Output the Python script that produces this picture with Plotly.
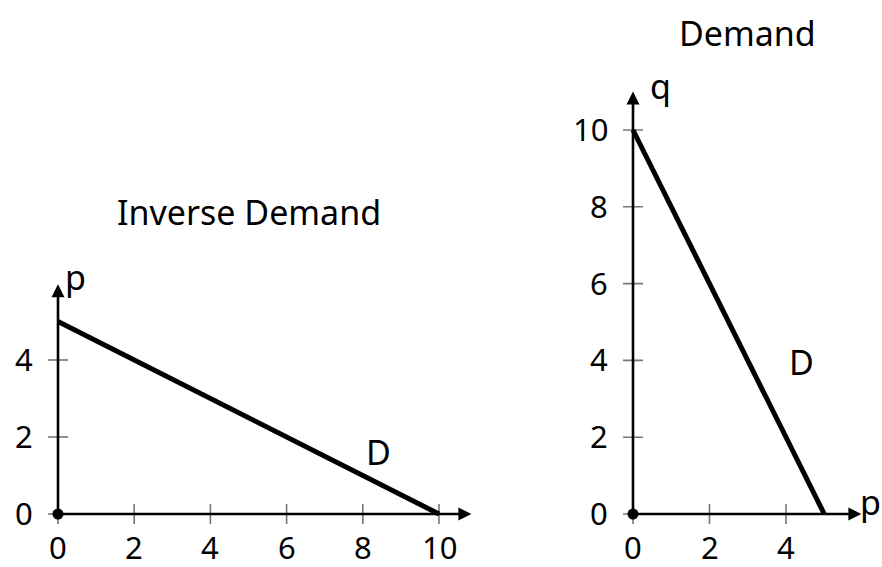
import plotly.graph_objects as go

# Linear demand: inverse form p(q) and direct form q(p)
inv_q = [0, 10]
inv_p = [5, 0]
dem_p = [0, 5]
dem_q = [10, 0]

left_xticks = [0, 2, 4, 6, 8, 10]
left_yticks = [0, 2, 4]
right_xticks = [0, 2, 4]
right_yticks = [0, 2, 4, 6, 8, 10]

titles = ["Inverse Demand", "Demand"]

W, H = 882, 567
FONT = "Noto Sans"
FS_TICK = 31
FS_TEXT = 34
BLACK = "#000000"
TICK_GRAY = "#777777"

fig = go.Figure()

# demand curves
fig.add_trace(go.Scatter(x=inv_q, y=inv_p, mode="lines",
                         line=dict(color=BLACK, width=5), xaxis="x", yaxis="y",
                         showlegend=False, hoverinfo="skip"))
fig.add_trace(go.Scatter(x=dem_p, y=dem_q, mode="lines",
                         line=dict(color=BLACK, width=5), xaxis="x2", yaxis="y2",
                         showlegend=False, hoverinfo="skip"))
# origin dots
for xa, ya in (("x", "y"), ("x2", "y2")):
    fig.add_trace(go.Scatter(x=[0], y=[0], mode="markers",
                             marker=dict(color=BLACK, size=11), xaxis=xa, yaxis=ya,
                             showlegend=False, hoverinfo="skip"))

annotations = []
shapes = []


def axis_arrow(xr, yr, x_tip, y_tip):
    annotations.append(dict(x=x_tip, y=y_tip, ax=0, ay=0, xref=xr, yref=yr,
                            axref=xr, ayref=yr, text="", showarrow=True,
                            arrowhead=2, arrowsize=1.0, arrowwidth=2.6,
                            arrowcolor=BLACK, standoff=0))


def text(xr, yr, x, y, s, size=FS_TEXT, xanchor="center", yanchor="middle",
         xshift=0, yshift=0):
    annotations.append(dict(x=x, y=y, xref=xr, yref=yr, text=s, showarrow=False,
                            xanchor=xanchor, yanchor=yanchor, xshift=xshift,
                            yshift=yshift, borderpad=0,
                            font=dict(family=FONT, size=size, color=BLACK)))


def ticks(xr, yr, xt, yt):
    for v in xt:
        shapes.append(dict(type="line", xref=xr, yref=yr, xsizemode="pixel",
                           ysizemode="pixel", xanchor=v, yanchor=0,
                           x0=0, x1=0, y0=-10, y1=10,
                           line=dict(color=TICK_GRAY, width=1.6), layer="below"))
        text(xr, yr, v, 0, str(v), size=FS_TICK, yshift=-33)
    for v in yt:
        shapes.append(dict(type="line", xref=xr, yref=yr, xsizemode="pixel",
                           ysizemode="pixel", xanchor=0, yanchor=v,
                           x0=-10, x1=10, y0=0, y1=0,
                           line=dict(color=TICK_GRAY, width=1.6), layer="below"))
        text(xr, yr, 0, v, str(v), size=FS_TICK, xanchor="right", xshift=-24, yshift=1)


# left panel: inverse demand
ticks("x", "y", left_xticks, left_yticks)
axis_arrow("x", "y", 10.85, 0)
axis_arrow("x", "y", 0, 5.97)
text("x", "y", 11.3, 0.55, "q")
text("x", "y", 0.45, 6.15, "p")
text("x", "y", 8.4, 1.6, "D")
text("x", "y", 5, 7.84, titles[0])

# right panel: demand
ticks("x2", "y2", right_xticks, right_yticks)
axis_arrow("x2", "y2", 5.97, 0)
axis_arrow("x2", "y2", 0, 11.0)
text("x2", "y2", 6.22, 0.3, "p")
text("x2", "y2", 0.72, 11.15, "q")
text("x2", "y2", 4.4, 3.96, "D")
text("x2", "y2", 3, 12.53, titles[1])

hidden = dict(visible=False, showgrid=False, zeroline=False)

fig.update_layout(
    width=W, height=H,
    margin=dict(l=0, r=0, t=0, b=0),
    paper_bgcolor="white", plot_bgcolor="white",
    showlegend=False,
    xaxis=dict(domain=[0, 485 / W], range=[-58 / 38.1, (485 - 58) / 38.1], **hidden),
    yaxis=dict(domain=[0, 1], range=[-(H - 514) / 38.5, 514 / 38.5], **hidden),
    xaxis2=dict(domain=[529.2 / W, 1], range=[-(633 - 529.2) / 38.25, (W - 633) / 38.25],
                **hidden),
    yaxis2=dict(domain=[0, 1], range=[-(H - 514) / 38.4, 514 / 38.4], anchor="x2",
                **hidden),
    annotations=annotations,
    shapes=shapes,
)

fig.write_html("out.html")
